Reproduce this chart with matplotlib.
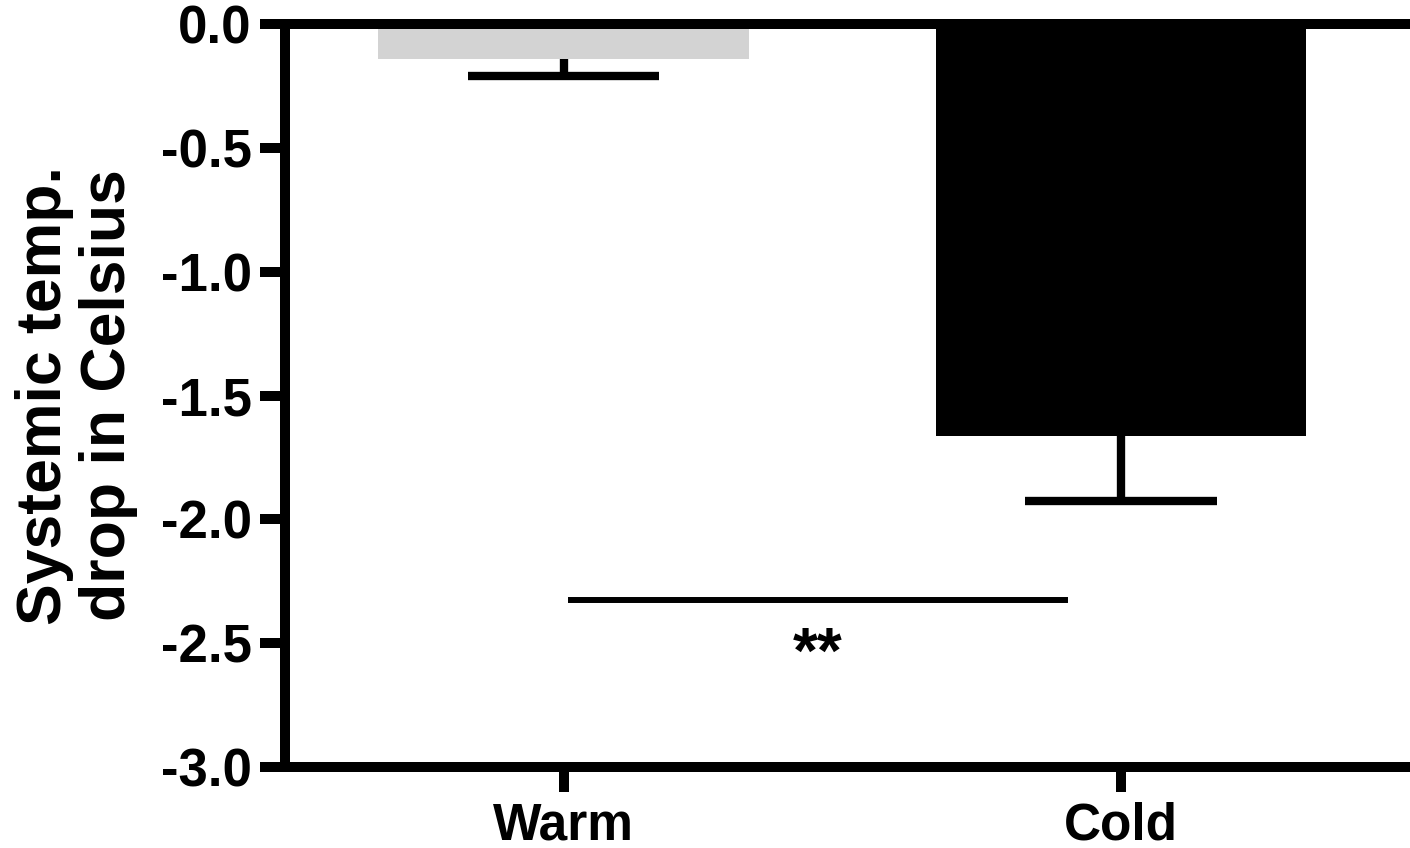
import matplotlib
matplotlib.use("Agg")
import matplotlib.pyplot as plt

plt.rcParams["font.family"] = ["Liberation Sans", "DejaVu Sans"]
plt.rcParams["font.weight"] = "bold"

groups = ["Warm", "Cold"]
means = [-0.14, -1.663]
errs = [0.07, 0.262]
colors = ["#d3d3d3", "#000000"]
sig_y = -2.325
sig_x = [0.013, 0.9]
sig_text = "**"
yticks = [0.0, -0.5, -1.0, -1.5, -2.0, -2.5, -3.0]

fig = plt.figure(figsize=(14.1, 8.48), dpi=100)
ax = fig.add_axes([285 / 1410, 81 / 848, 1120 / 1410, 743 / 848])

x = list(range(len(groups)))
ax.bar(x, means, width=0.665, color=colors, zorder=2)
# one-sided error bars (downward only)
lows = [m - e for m, e in zip(means, errs)]
cap = 0.172
ax.vlines(x, means, lows, color="black", lw=6, zorder=3)
ax.hlines(lows, [xi - cap for xi in x], [xi + cap for xi in x],
          color="black", lw=6, zorder=3)

ax.plot(sig_x, [sig_y, sig_y], color="black", lw=4.3)
ax.text(sum(sig_x) / 2, -2.62, sig_text, ha="center", va="baseline",
        fontsize=46, fontweight="bold")

ax.set_xlim(-0.5, 1.51)
ax.set_ylim(-3.0, 0.0)
ax.set_xticks(x)
ax.set_xticklabels(groups, fontsize=37)
ax.set_yticks(yticks)
ax.set_yticklabels([f"{v:.1f}" for v in yticks], fontsize=38)
ax.tick_params(axis="both", direction="out", length=18, width=7.2)
ax.tick_params(axis="y", pad=6)
ax.tick_params(axis="x", pad=7)

ax.spines["right"].set_visible(False)
for s in ["left", "top", "bottom"]:
    ax.spines[s].set_linewidth(7.2)
    ax.spines[s].set_zorder(4)

ax.set_ylabel("Systemic temp.\ndrop in Celsius", fontsize=45, fontweight="bold",
              linespacing=1.12)
ax.yaxis.set_label_coords(-0.131, 0.5)

fig.savefig("out.png", dpi=100)
